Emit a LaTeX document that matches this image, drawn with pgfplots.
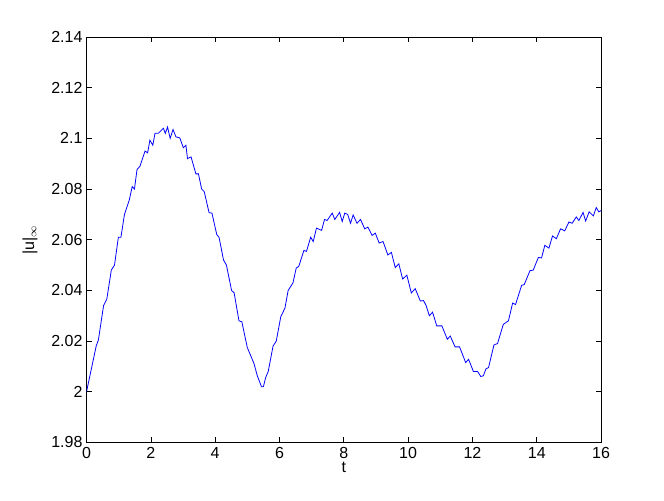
\documentclass[border=0pt]{standalone}
\usepackage{fontspec}
\setmainfont{Liberation Sans}
\usepackage{pgfplots}
\pgfplotsset{compat=1.18}

\begin{document}
\begin{tikzpicture}
% 664x500 px canvas, 1 px = 0.75pt
\path[use as bounding box] (0pt,0pt) rectangle (498pt,375pt);
\begin{axis}[
  at={(64.9pt,43.2pt)}, anchor=south west,
  scale only axis,
  width=385.9pt, height=304.0pt,
  xmin=0, xmax=16, ymin=1.98, ymax=2.14,
  xtick={0,2,...,16},
  ytick={1.98,2,2.02,2.04,2.06,2.08,2.1,2.12,2.14},
  tick align=inside,
  major tick length=3.75pt,
  minor tick num=0,
  axis line style={line width=0.5pt},
  tick style={line width=0.5pt, black},
  /pgf/number format/assume math mode=true,
  /pgf/number format/fixed,
  /pgf/number format/precision=2,
  ticklabel style={font=\fontsize{12pt}{14pt}\selectfont},
  yticklabel style={xshift=0.5pt},
  xticklabel style={yshift=0pt},
  xlabel={t},
  ylabel={\textbar u\textbar$_\infty$},
  label style={font=\fontsize{12pt}{14pt}\selectfont},
  xlabel style={at={(axis description cs:0.5,-0.062)}, anchor=center},
  ylabel style={at={(axis description cs:-0.11,0.5)}, anchor=center},
]
\addplot[color={rgb,255:red,0;green,0;blue,255}, line width=0.6pt, no markers] coordinates {
(0,2.000) (0.30,2.018) (0.37,2.0205) (0.53,2.034) (0.63,2.0365) (0.77,2.048)
(0.87,2.050) (0.99,2.061) (1.07,2.061) (1.18,2.070) (1.33,2.0757) (1.42,2.081)
(1.49,2.080) (1.57,2.0877) (1.66,2.089) (1.82,2.095) (1.90,2.0943) (1.97,2.0993)
(2.06,2.0973) (2.13,2.102) (2.23,2.102) (2.39,2.104) (2.45,2.102) (2.52,2.1045)
(2.60,2.100) (2.69,2.1035) (2.78,2.1006) (2.90,2.1002) (3.01,2.0963) (3.09,2.0973)
(3.14,2.092) (3.25,2.0927) (3.40,2.086) (3.48,2.086) (3.58,2.080) (3.66,2.079)
(3.81,2.0707) (3.90,2.0705) (4.05,2.062) (4.12,2.061) (4.26,2.052) (4.35,2.050)
(4.51,2.040) (4.59,2.039) (4.74,2.028) (4.83,2.0276) (5.00,2.0174) (5.14,2.0132)
(5.21,2.011) (5.31,2.0063) (5.44,2.002) (5.50,2.002) (5.57,2.0056) (5.65,2.008)
(5.80,2.018) (5.90,2.020) (6.04,2.0296) (6.17,2.033) (6.27,2.040) (6.42,2.043)
(6.52,2.0488) (6.60,2.0495) (6.76,2.0558) (6.84,2.0554) (6.97,2.061) (7.05,2.0593)
(7.15,2.0646) (7.31,2.0637) (7.40,2.068) (7.48,2.0676) (7.64,2.0705) (7.72,2.068)
(7.87,2.0708) (7.95,2.0672) (8.03,2.0705) (8.12,2.070) (8.21,2.0665) (8.29,2.0698)
(8.41,2.0665) (8.52,2.068) (8.65,2.0643) (8.75,2.065) (8.88,2.0617) (8.98,2.0626)
(9.10,2.0587) (9.22,2.0593) (9.37,2.054) (9.48,2.055) (9.60,2.049) (9.71,2.0505)
(9.83,2.0445) (9.96,2.046) (10.10,2.039) (10.22,2.0407) (10.38,2.0358) (10.48,2.036)
(10.56,2.034) (10.66,2.030) (10.76,2.0314) (10.89,2.026) (11.05,2.026) (11.22,2.0207)
(11.31,2.022) (11.46,2.0177) (11.60,2.0177) (11.79,2.0115) (11.88,2.0128) (12.03,2.008)
(12.16,2.008) (12.26,2.006) (12.34,2.0063) (12.42,2.009) (12.50,2.0095) (12.67,2.0185)
(12.78,2.019) (12.96,2.0266) (13.12,2.028) (13.25,2.035) (13.34,2.0344) (13.53,2.042)
(13.61,2.0423) (13.79,2.0478) (13.89,2.048) (14.05,2.053) (14.15,2.0528) (14.25,2.0578)
(14.38,2.0567) (14.49,2.0615) (14.61,2.0604) (14.74,2.0643) (14.87,2.0635) (15.00,2.067)
(15.10,2.0665) (15.23,2.069) (15.31,2.0676) (15.44,2.0708) (15.52,2.0674) (15.63,2.071)
(15.76,2.0694) (15.85,2.0727) (15.93,2.071) (16.00,2.0715)
};
\end{axis}
\end{tikzpicture}
\end{document}
